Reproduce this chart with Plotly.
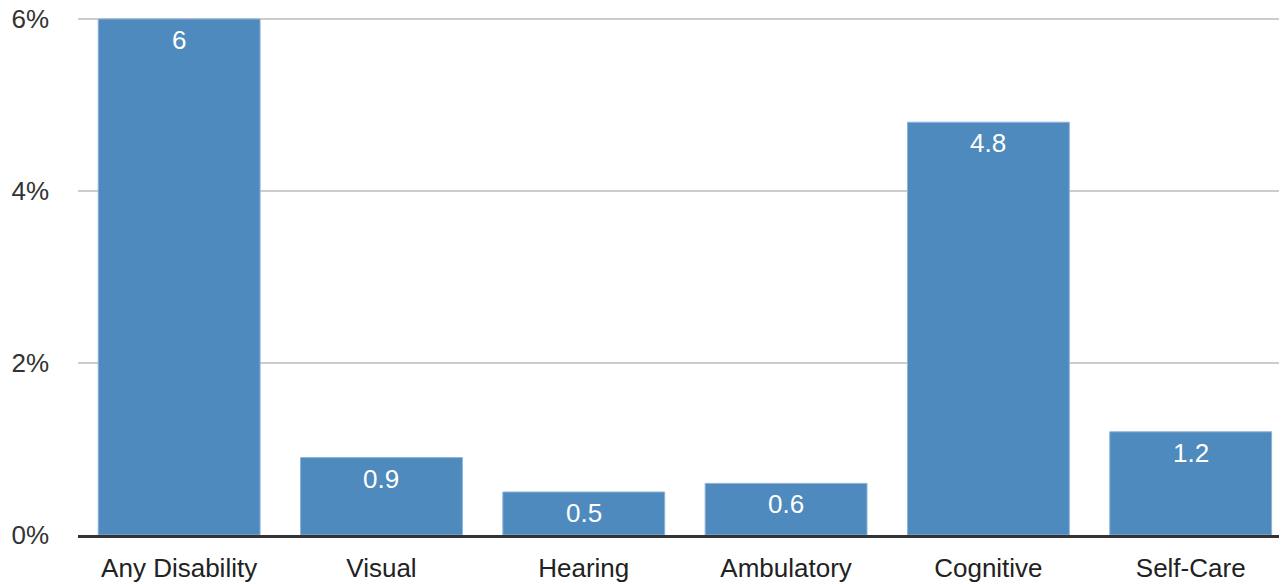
import plotly.graph_objects as go

categories = ["Any Disability", "Visual", "Hearing", "Ambulatory", "Cognitive", "Self-Care"]
values = [6, 0.9, 0.5, 0.6, 4.8, 1.2]
value_labels = ["6", "0.9", "0.5", "0.6", "4.8", "1.2"]
y_ticks = [0, 2, 4, 6]
y_tick_labels = ["0%", "2%", "4%", "6%"]

FONT = "Liberation Sans, Arial, Helvetica, sans-serif"

fig = go.Figure(
    go.Bar(
        x=categories,
        y=values,
        marker=dict(color="#4e8abe", line=dict(color="#8db2d6", width=1)),
        cliponaxis=False,
        hoverinfo="skip",
    )
)

for cat, val, lab in zip(categories, values, value_labels):
    fig.add_annotation(
        x=cat, y=val, text=lab, showarrow=False,
        yanchor="top", yshift=-4,
        font=dict(family=FONT, size=26, color="white"),
    )

# page body has an 8px margin, so the figure is offset by 8px
fig.update_layout(
    width=1279,
    height=576,
    margin=dict(l=70, r=0, t=0, b=49, autoexpand=False),
    paper_bgcolor="white",
    plot_bgcolor="white",
    bargap=0.2,
    showlegend=False,
    font=dict(family=FONT, size=26, color="#333333"),
)

fig.update_xaxes(
    range=[-0.5, 5.476],
    showgrid=False,
    showline=True,
    linecolor="#333333",
    linewidth=3,
    ticks="",
    tickfont=dict(family=FONT, size=26, color="#222222"),
    ticklabelstandoff=8,
    automargin=False,
)

fig.update_yaxes(
    range=[0, 6.128],
    tickvals=y_ticks,
    ticktext=y_tick_labels,
    showgrid=True,
    gridcolor="#cccccc",
    gridwidth=2,
    zeroline=False,
    showline=False,
    ticks="",
    tickfont=dict(family=FONT, size=26, color="#333333"),
    ticklabelstandoff=28,
    ticklabeloverflow="allow",
    automargin=False,
)

fig.write_html("out.html")
